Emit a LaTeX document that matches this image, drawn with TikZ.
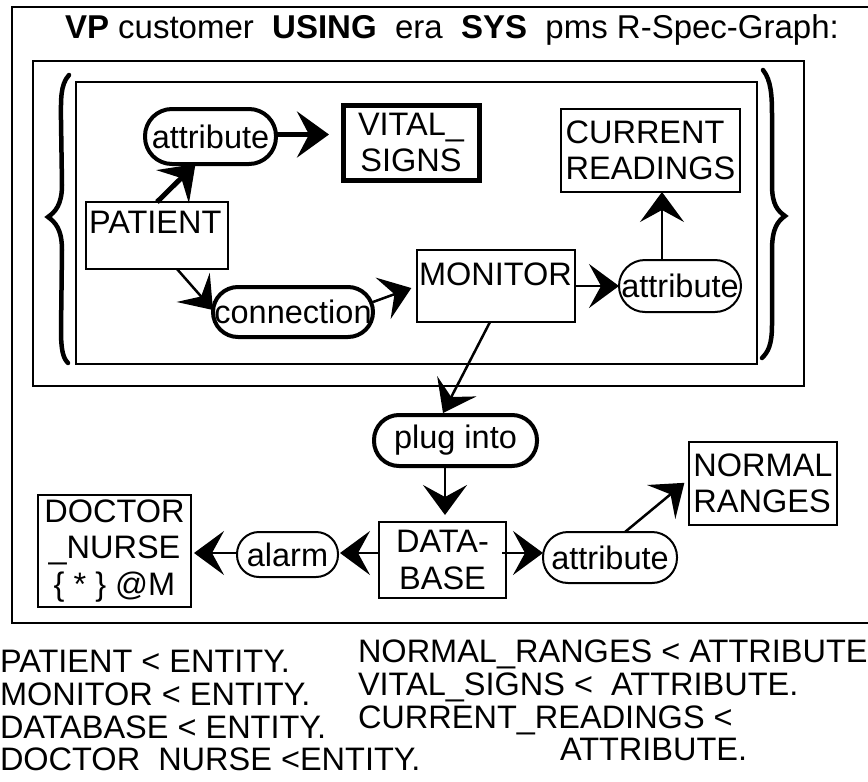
\documentclass[tikz,border=0pt]{standalone}
\usepackage{fontspec}
\setmainfont{Liberation Sans}
\usetikzlibrary{arrows.meta,calc}
\newcommand\bigtxt{\fontsize{32.5}{36.5}\selectfont}
\begin{document}
\begin{tikzpicture}[x=1pt,y=-1pt,
  every node/.style={inner sep=0pt,outer sep=0pt,font=\bigtxt},
  frame/.style={draw,line width=2.5pt},
  ebox/.style={draw,line width=2pt,rectangle,align=center},
  lbox/.style={draw,line width=2pt,rectangle,align=left},
  pill/.style={draw,line width=2pt,rounded corners=#1},
  tpill/.style={draw,line width=4pt,rounded corners=#1},
  txt/.style={anchor=base west},
  con/.style={line width=2.5pt,-{Stealth[length=30pt,width=44pt,inset=12pt]}},
  bcon/.style={line width=4.5pt,-{Stealth[length=32pt,width=46pt,inset=12pt]}},
  brace/.style={line width=4.5pt,line cap=round}]
\useasboundingbox (0,0) rectangle (868,782);

% frames
\draw[frame] (868,7) -- (12,7) -- (12,623) -- (868,623);
\draw[frame] (33,61) rectangle (804,386);
\draw[frame] (76,82) rectangle (757,364);

% title
\node[txt,font=\fontsize{33}{36}\selectfont] (title) at (65,38) {\textbf{VP} customer\ \ \textbf{USING}\ \ era\ \ \textbf{SYS}\ \ pms R-Spec-Graph:};

% braces
\draw[brace] (69,75) .. controls (60,85) and (61,100) .. (61,120) -- (62,185)
  .. controls (62,205) and (55,212) .. (48,217)
  .. controls (55,222) and (62,229) .. (62,250) -- (61,330)
  .. controls (61,350) and (63,358) .. (68,363);
\draw[brace] (763,70) .. controls (771,80) and (772,95) .. (772,115) -- (772,185)
  .. controls (772,205) and (778,211) .. (785,216)
  .. controls (778,221) and (772,228) .. (772,250) -- (772,325)
  .. controls (772,345) and (768,352) .. (762,358);

% entity boxes and relation pills
\node[ebox,minimum width=142pt,minimum height=67pt] (pat) at (157,235.5) {};
\node[txt] (patl) at (89,233) {PATIENT};
\node[tpill=27pt,minimum width=131pt,minimum height=55pt] (att1) at (210.5,136.5) {attribute};
\node[ebox,line width=5pt,minimum width=136pt,minimum height=75pt] (vit) at (411,142.5) {VITAL\_\\SIGNS};
\node[lbox,minimum width=179pt,minimum height=83pt] (cur) at (650.5,150.5) {CURRENT\\READINGS};
\node[tpill=25pt,minimum width=160pt,minimum height=50pt] (con) at (293,312) {connection};
\node[ebox,minimum width=158pt,minimum height=72pt] (mon) at (496,286) {};
\node[txt] (monl) at (419,285) {MONITOR};
\node[pill=26pt,minimum width=122pt,minimum height=52pt] (att3) at (680,286) {attribute};
\node[tpill=25pt,minimum width=163pt,minimum height=51pt] (plug) at (455.5,440.5) {plug into};
\node[ebox,minimum width=127pt,minimum height=76pt] (db) at (442.5,560) {DATA-\\BASE};
\node[pill=22pt,minimum width=101pt,minimum height=45pt] (alarm) at (287.5,554.5) {alarm};
\node[pill=25pt,minimum width=134pt,minimum height=51pt] (att2) at (610,557.5) {attribute};
\node[lbox,minimum width=148pt,minimum height=83pt] (norm) at (763,483.5) {NORMAL\\RANGES};
\node[ebox,minimum width=153pt,minimum height=112pt] (doc) at (114.5,551) {DOCTOR\\\_NURSE\\\{ * \} @M};

% connectors
\draw[bcon,line width=5pt] ($(pat.north west)+(71,0)$) -- ($(att1.south)+(-15,0)$);
\draw[bcon,shorten >=14pt] ($(att1.east)+(0,-2)$) -- ($(vit.west)+(0,-8)$);
\draw[con] ($(pat.south west)+(91,0)$) -- ($(con.west)+(0,-2)$);
\draw[con,shorten >=6pt] ($(con.east)+(0,-10)$) -- (mon.west);
\draw[con] (mon.east) -- (att3.west);
\draw[con] ($(att3.north)+(-18,0)$) -- ($(cur.south)+(11.5,0)$);
\draw[con] ($(mon.south)+(-6,0)$) -- ($(plug.north)+(-12.5,-2)$);
\draw[con,shorten >=7pt] ($(plug.south)+(-10.5,0)$) -- ($(db.north)+(2.5,0)$);
\draw[con,shorten >=2pt] ($(db.west)+(0,-7)$) -- ($(alarm.east)+(0,-1.5)$);
\draw[con,shorten >=3pt] ($(alarm.west)+(0,-1.5)$) -- ($(doc.east)+(0,2)$);
\draw[con] ($(db.east)+(-4,-7)$) -- ($(att2.west)+(0,-4.5)$);
\draw[con,shorten >=6pt] ($(att2.north)+(15,0)$) -- ($(norm.west)+(0,-4.5)$);

% declarations
\node[txt] (d1) at (0,672) {PATIENT < ENTITY.};
\node[txt] (d2) at (0,705) {MONITOR < ENTITY.};
\node[txt] (d3) at (0,738) {DATABASE < ENTITY.};
\node[txt] (d4) at (0,770) {DOCTOR\ \ NURSE <ENTITY.};
\node[txt] (d5) at (358,662) {NORMAL\_RANGES < ATTRIBUTE};
\node[txt] (d6) at (358,695) {VITAL\_SIGNS <\ \ ATTRIBUTE.};
\node[txt] (d7) at (358,728) {CURRENT\_READINGS <};
\node[txt] (d8) at (560,760) {ATTRIBUTE.};
\end{tikzpicture}
\end{document}
